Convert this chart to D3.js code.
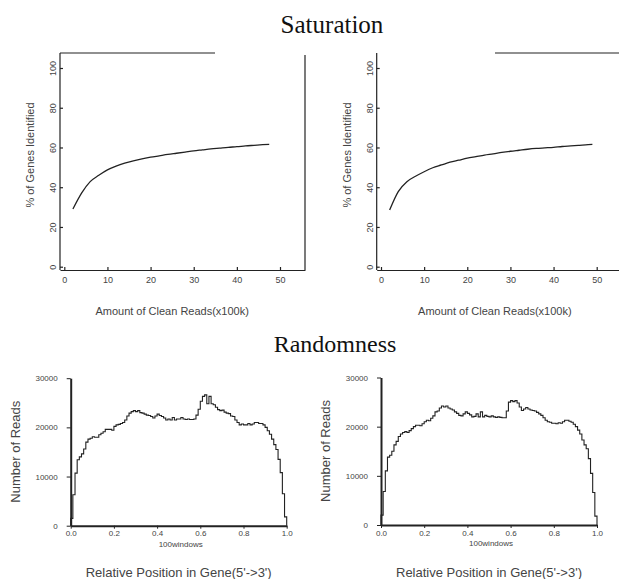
<!DOCTYPE html>
<html lang="en">
<head>
  <meta charset="UTF-8">
  <title>Saturation / Randomness</title>
  <style>
    body { margin: 0; background: #fff; }
    text { font-family: "Liberation Sans", Arial, sans-serif; fill: #444; }
    .title { font-family: "Liberation Serif", "Times New Roman", serif; fill: #111; }
  </style>
</head>
<body>
<svg width="619" height="579"></svg>

<script src="https://cdn.jsdelivr.net/npm/d3@7"></script>
<script>
  // saturation curves (x = clean reads x100k, y = % genes identified)
  var satX1 = [2,4,6,8,10,12,14,16,18,20,22,24,26,28,30,32,34,36,38,40,42,44,46,47.5];
  var satY1 = [29,37,42.8,46,48.7,50.6,52.1,53.3,54.3,55.1,55.8,56.5,57.1,57.7,58.3,58.8,59.3,59.7,60.1,60.4,60.8,61.1,61.4,61.6];
  var satX2 = [2,4,6,8,10,12,14,16,18,20,22,24,26,28,30,32,34,36,38,40,42,44,46,48,49];
  var satY2 = [28.5,37.8,42.8,45.5,47.8,49.8,51.2,52.6,53.6,54.6,55.4,56.2,56.8,57.5,58.1,58.6,59.1,59.5,59.8,60.1,60.5,60.8,61.1,61.4,61.6];
  var satXTicks = [0,10,20,30,40,50];
  var satYTicks = [0,20,40,60,80,100];

  // randomness: reads per window, 100 windows along the gene
  var randL = [1500,6300,10700,13400,14000,14600,15600,17000,17600,17800,
               18100,18000,18000,18500,18800,19100,19600,19600,19600,19400,
               20200,20500,20600,20800,21000,21500,22300,22900,23200,23400,
               23200,23400,23000,22900,22700,22500,22400,22200,21900,22300,
               22700,22400,22200,21900,21500,21700,21500,22000,21500,21700,
               21700,22000,21700,21600,21700,21600,21600,21700,22500,23700,
               25300,26300,26600,24800,26300,24800,24600,24100,23600,23400,
               23500,23100,22900,22800,22300,22200,21500,21000,20500,20700,
               20500,20500,20800,20500,20700,21000,21000,20800,20800,20500,
               20000,19300,18600,17600,16500,15500,13500,10800,6500,1800];
  var randR = [2000,6800,11000,13800,14200,15000,16300,17000,18000,18500,
               18800,19000,18800,19200,19600,20000,20300,20300,20200,20600,
               21000,21300,21200,21700,22200,23000,23200,23800,24200,24000,
               24200,23800,23600,23400,23000,22700,22300,22200,22600,23000,
               22700,22400,22000,22100,22600,22000,23000,22000,22300,22100,
               22000,22200,22000,21900,22000,21900,21800,21800,23200,25000,
               25300,25100,25300,24800,24000,23300,23600,23900,23600,23400,
               23300,23200,22900,22600,22300,21800,21300,21000,20900,20700,
               20700,20600,20800,20700,21000,21300,21300,21100,20900,20500,
               20000,19300,18500,17300,16300,15500,13500,10500,6600,1800];
  var randXTicks = [0,0.2,0.4,0.6,0.8,1.0];
  var randYTicks = [0,10000,20000,30000];

  var svg = d3.select('svg');
  var ink = '#222';

  svg.append('text').attr('class', 'title').attr('x', 332).attr('y', 33)
    .attr('text-anchor', 'middle').style('font-size', '25px').text('Saturation');
  svg.append('text').attr('class', 'title').attr('x', 335).attr('y', 352)
    .attr('text-anchor', 'middle').style('font-size', '24px').text('Randomness');

  // ---------- saturation panels ----------
  function saturation(left, right, x0px, xs, ys, frame, titleShift) {
    var x = d3.scaleLinear().domain([0, 50]).range([x0px, x0px + 215.7]);
    var xr = d3.scaleLinear().domain([x.invert(left), x.invert(right)]).range([left, right]);
    var y = d3.scaleLinear().domain([0, 100]).range([266.7, 68]);
    var g = svg.append('g');

    var gx = g.append('g').attr('transform', 'translate(0,270)')
      .call(d3.axisBottom(xr).tickValues(satXTicks).tickSizeInner(-3).tickSizeOuter(0).tickPadding(7));
    gx.selectAll('text').style('font-size', '9px').attr('fill', '#555');

    var gy = g.append('g').attr('transform', 'translate(' + left + ',0)')
      .call(d3.axisLeft(y).tickValues(satYTicks).tickSizeInner(-3).tickSizeOuter(0));
    gy.select('.domain').attr('d', 'M0,270V53');
    gy.selectAll('text').attr('x', 0).attr('dy', 0)
      .attr('transform', 'translate(-4,0) rotate(-90)')
      .attr('text-anchor', 'middle').style('font-size', '9px').attr('fill', '#555');
    g.selectAll('.domain, .tick line').attr('stroke', ink).attr('stroke-width', 1.2);

    // partial frame
    frame.forEach(function (f) {
      g.append('line').attr('x1', f[0]).attr('y1', f[1]).attr('x2', f[2]).attr('y2', f[3])
        .attr('stroke', ink).attr('stroke-width', 1.2);
    });

    var line = d3.line().curve(d3.curveMonotoneX)
      .x(function (d) { return x(d[0]); }).y(function (d) { return y(d[1]); });
    g.append('path').datum(d3.zip(xs, ys)).attr('d', line)
      .attr('fill', 'none').attr('stroke', ink).attr('stroke-width', 1.3);

    g.append('text').attr('x', x(25) + titleShift).attr('y', 315)
      .attr('text-anchor', 'middle').style('font-size', '11px')
      .text('Amount of Clean Reads(x100k)');
    g.append('text').attr('transform', 'translate(' + (left - 26) + ',155) rotate(-90)')
      .attr('text-anchor', 'middle').style('font-size', '11px')
      .text('% of Genes Identified');
  }

  saturation(60, 305, 64.3, satX1, satY1, [[60, 53, 215, 53], [305, 55, 305, 270]], 0);
  saturation(376.7, 619, 381, satX2, satY2, [[495, 53, 619, 53]], 6);

  // ---------- randomness panels ----------
  function randomness(x0px, y0px, vals) {
    var x = d3.scaleLinear().domain([0, 1]).range([x0px, x0px + 216]);
    var y = d3.scaleLinear().domain([0, 30000]).range([y0px, y0px - 147.5]);
    var g = svg.append('g');

    var gx = g.append('g').attr('transform', 'translate(0,' + y0px + ')')
      .call(d3.axisBottom(x).tickValues(randXTicks).tickFormat(d3.format('.1f'))
        .tickSizeInner(3).tickSizeOuter(0).tickPadding(2));
    gx.selectAll('text').style('font-size', '8px').attr('fill', '#555');

    var gy = g.append('g').attr('transform', 'translate(' + x0px + ',0)')
      .call(d3.axisLeft(y).tickValues(randYTicks).tickFormat(d3.format('d'))
        .tickSizeInner(4).tickSizeOuter(0).tickPadding(9));
    gy.selectAll('text').style('font-size', '8px').attr('fill', '#555');
    g.selectAll('.tick line').attr('stroke', ink).attr('stroke-width', 1);
    g.selectAll('.domain').attr('stroke', ink).attr('stroke-width', 2);

    var pts = [[0, 0]].concat(vals.map(function (v, i) { return [i / vals.length, v]; }))
      .concat([[1, vals[vals.length - 1]], [1, 0]]);
    var line = d3.line().curve(d3.curveStepAfter)
      .x(function (d) { return x(d[0]); }).y(function (d) { return y(d[1]); });
    g.append('path').datum(pts).attr('d', line)
      .attr('fill', 'none').attr('stroke', ink).attr('stroke-width', 1.1);

    g.append('text').attr('x', x(0.5) + 2).attr('y', y0px + 21)
      .attr('text-anchor', 'middle').style('font-size', '8px').text('100windows');
    g.append('text').attr('x', x(0.5)).attr('y', 577)
      .attr('text-anchor', 'middle').style('font-size', '13px')
      .text("Relative Position in Gene(5'->3')");
    g.append('text').attr('transform', 'translate(' + (x0px - 51) + ',' + (y0px - 74) + ') rotate(-90)')
      .attr('text-anchor', 'middle').style('font-size', '13px').text('Number of Reads');
  }

  randomness(70.7, 525.7, randL);
  randomness(381, 525, randR);
</script>
</body>
</html>
